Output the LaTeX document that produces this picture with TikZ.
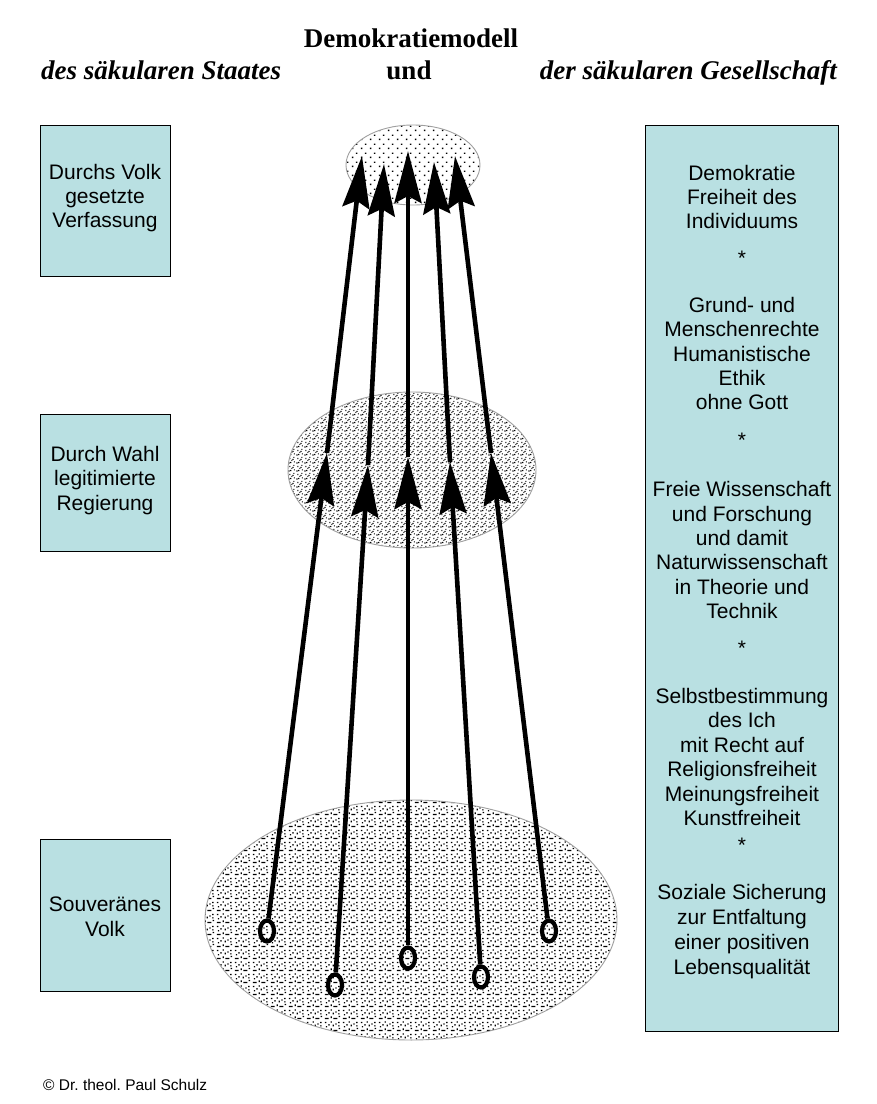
\documentclass[tikz,border=0pt]{standalone}
\usepackage{fontspec}
\setmainfont{Liberation Serif}
\setsansfont{Liberation Sans}
\usetikzlibrary{arrows.meta,shapes.geometric,patterns.meta}
\definecolor{boxc}{RGB}{185,224,226}
\frenchspacing
\tikzdeclarepattern{name=stipA, type=uncolored,
  bottom left={(0pt,0pt)}, top right={(9pt,9pt)}, tile size={(9pt,9pt)},
  code={\fill (1pt,1pt) rectangle (2.6pt,2.6pt); \fill (5.5pt,5.5pt) rectangle (7.1pt,7.1pt);}}
\tikzdeclarepattern{name=stipB, type=uncolored,
  bottom left={(0pt,0pt)}, top right={(8pt,8pt)}, tile size={(8pt,8pt)},
  code={\fill (0.5pt,0.5pt) rectangle (1.8pt,1.8pt);
        \fill (2.5pt,1pt) rectangle (3.8pt,2.3pt);
        \fill (5pt,4.5pt) rectangle (6.3pt,5.8pt);
        \fill (1.5pt,5.5pt) rectangle (2.8pt,6.8pt);
        \fill (6.5pt,1.8pt) rectangle (7.6pt,2.9pt);
        \fill (3.8pt,3.5pt) rectangle (4.9pt,4.6pt);
        \fill (6pt,6.8pt) rectangle (7.1pt,7.9pt);}}
\tikzdeclarepattern{name=stipC, type=uncolored,
  bottom left={(0pt,0pt)}, top right={(18pt,12pt)}, tile size={(18pt,12pt)},
  code={\fill (1pt,1pt) rectangle (5pt,2.4pt);
        \fill (7pt,2pt) rectangle (8.4pt,4pt);
        \fill (10pt,1pt) rectangle (14pt,2.4pt);
        \fill (15.5pt,3pt) rectangle (16.9pt,4.4pt);
        \fill (2pt,5pt) rectangle (3.4pt,6.4pt);
        \fill (4.5pt,7pt) rectangle (5.9pt,8.4pt);
        \fill (9pt,6pt) rectangle (10.4pt,8pt);
        \fill (12pt,8pt) rectangle (13.4pt,9.4pt);
        \fill (1pt,9.5pt) rectangle (2.4pt,10.9pt);
        \fill (7pt,10pt) rectangle (8.4pt,11.4pt);
        \fill (15pt,9.5pt) rectangle (16.4pt,11pt);
        \fill (15pt,6pt) rectangle (16.4pt,7.2pt);}}
\tikzset{
  lbox/.style={draw=black, line width=0.8pt, fill=boxc, minimum width=130pt, inner sep=0pt},
  ell/.style={ellipse, draw=gray!75, line width=0.9pt, inner sep=0pt, pattern color=black},
  arr/.style={line width=4.6pt, -{Stealth[length=52pt,width=27pt,inset=7pt]}},
  tail/.style={ellipse, draw=black, line width=4.2pt, minimum width=14pt, minimum height=21pt, inner sep=0pt},
  sf/.style={font=\sffamily\fontsize{21}{24}\selectfont, anchor=base, inner sep=0pt},
  ttl/.style={font=\bfseries\fontsize{27}{30}\selectfont, anchor=base, inner sep=0pt},
  ttli/.style={font=\bfseries\itshape\fontsize{27}{30}\selectfont, inner sep=0pt},
}
\begin{document}
\begin{tikzpicture}[x=1pt,y=-1pt]
\useasboundingbox (0,0) rectangle (877,1104);
% titles
\node[ttl] (title) at (411,47) {Demokratiemodell};
\node[ttli, anchor=base west] (tleft) at (41,79) {des säkularen Staates};
\node[ttl] (tund) at (409,79) {und};
\node[ttli, anchor=base east] (tright) at (837,79) {der säkularen Gesellschaft};
% left boxes
\node[lbox, minimum height=151pt] (b1) at (105,200.5) {};
\node[lbox, minimum height=137pt] (b2) at (105,482.5) {};
\node[lbox, minimum height=152pt] (b3) at (105,915) {};
\node[sf] (b1a) at (105,179) {Durchs Volk};
\node[sf] (b1b) at (105,203) {gesetzte};
\node[sf] (b1c) at (105,227) {Verfassung};
\node[sf] (b2a) at (105,461) {Durch Wahl};
\node[sf] (b2b) at (105,485.5) {legitimierte};
\node[sf] (b2c) at (105,510) {Regierung};
\node[sf] (b3a) at (105,911) {Souveränes};
\node[sf] (b3b) at (105,936) {Volk};
% right box
\node[lbox, minimum width=193pt, minimum height=906pt] (rb) at (741.5,578) {};
\foreach \t/\y [count=\i] in {
  Demokratie/180, Freiheit des/204.3, Individuums/228.6, */265,
  Grund- und/312.7, Menschenrechte/336.9, Humanistische/361.1, Ethik/385.3, ohne Gott/409.5, */447,
  Freie Wissenschaft/496.5, und Forschung/521, und damit/545.5, Naturwissenschaft/569.5, in Theorie und/594.5, Technik/618.5, */655,
  Selbstbestimmung/703.5, des Ich/727.5, mit Recht auf/752.5, Religionsfreiheit/776.5, Meinungsfreiheit/801.5, Kunstfreiheit/825.5, */852,
  Soziale Sicherung/899.5, zur Entfaltung/924.5, einer positiven/949.5, Lebensqualität/974.5}
  \node[sf] (r\i) at (742,\y) {\t};
% ellipses
\node[ell, pattern=stipA, minimum width=134pt, minimum height=80pt] (etop) at (413,165) {};
\node[ell, pattern=stipB, minimum width=248pt, minimum height=156pt] (emid) at (412,470) {};
\node[ell, pattern=stipC, minimum width=412pt, minimum height=240pt] (ebot) at (411,920) {};
% points
\coordinate (m1) at (327,453);
\coordinate (m2) at (368,465);
\coordinate (m3) at (408,457);
\coordinate (m4) at (450,462);
\coordinate (m5) at (491,453);
\coordinate (p1) at (362,156);
\coordinate (p2) at (384,164);
\coordinate (p3) at (408,151);
\coordinate (p4) at (434,162);
\coordinate (p5) at (455,156);
\node[tail] (t1) at (267,931) {};
\node[tail] (t2) at (335,985) {};
\node[tail] (t3) at (408,958) {};
\node[tail] (t4) at (481,977) {};
\node[tail] (t5) at (549,931) {};
\foreach \i in {1,...,5} {
  \draw[arr] (m\i) -- (p\i);
  \draw[arr] (t\i) -- (m\i);
}
% footer
\node[font=\sffamily\fontsize{15.5}{18}\selectfont, anchor=base west, inner sep=0pt] (foot) at (43,1090) {© Dr. theol. Paul Schulz};
\end{tikzpicture}
\end{document}
